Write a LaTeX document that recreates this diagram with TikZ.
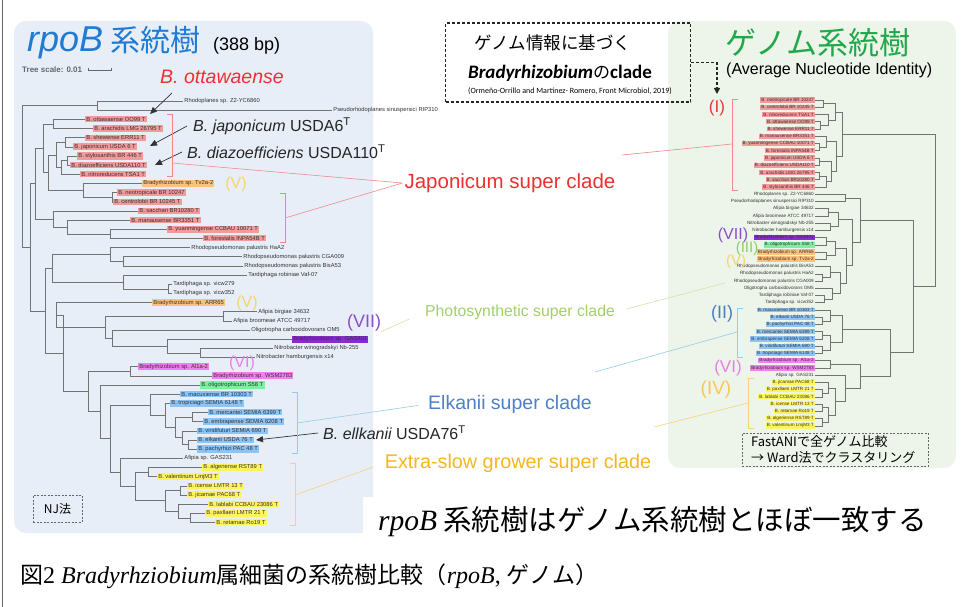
\documentclass[tikz,border=0pt]{standalone}
\usepackage{fontspec}
\setmainfont{Liberation Sans}
\newfontfamily\jp{Noto Sans CJK JP}
\newfontfamily\serifL{Liberation Serif}
\newfontfamily\carl{Carlito}
\usetikzlibrary{arrows.meta}
\newcommand\ly[1]{101+9.16*#1}
\newcommand\ry[1]{100+7.24*#1}
\newcommand\fsz[1]{\fontsize{#1}{#1}\selectfont}
\definecolor{lpanel}{HTML}{E8EEF8}
\definecolor{rpanel}{HTML}{EDF4E9}
\definecolor{hred}{HTML}{F39A9A}
\definecolor{hora}{HTML}{F9C27E}
\definecolor{hpur}{HTML}{8A2BD0}
\definecolor{hmag}{HTML}{F27EF0}
\definecolor{hgrn}{HTML}{7DEFA0}
\definecolor{hblu}{HTML}{8CC4F6}
\definecolor{hyel}{HTML}{FFF45C}
\definecolor{ttlblue}{HTML}{1F7BD4}
\definecolor{ttlgreen}{HTML}{20A84A}
\definecolor{cred}{HTML}{EE3030}
\definecolor{cgreen}{HTML}{A2D06A}
\definecolor{cblue}{HTML}{4F7FCB}
\definecolor{cyel}{HTML}{F4B81C}
\definecolor{lred}{HTML}{F08A8A}
\definecolor{lgrn}{HTML}{CFE4A8}
\definecolor{lblu}{HTML}{90CDEB}
\definecolor{lyel}{HTML}{F6D27A}
\definecolor{nVII}{HTML}{8A4FC6}
\definecolor{nVI}{HTML}{E77FE8}
\definecolor{nV}{HTML}{F7D46A}
\definecolor{nIII}{HTML}{8ED060}
\definecolor{nII}{HTML}{4A7CC8}
\definecolor{nIV}{HTML}{F5C85A}
\definecolor{nI}{HTML}{E8393A}
\newcommand\LE[2]{\foreach \c in {#2}{\draw[br] (#1) |- (\c);}}
\newcommand\RE[2]{\foreach \c in {#2}{\draw[br] (\c) -| (#1);}}
\tikzset{
  br/.style={draw=black!55, line width=0.45pt},
  lfl/.style={anchor=west, font=\fsz{5.8}, inner xsep=1.2pt, inner ysep=0.9pt, text=black!80},
  lfr/.style={anchor=east, font=\fsz{4.6}, inner xsep=1pt, inner ysep=0.7pt, text=black!80},
  arr/.style={draw=black!80, line width=0.7pt, -{Triangle[length=7pt,width=6pt]}},
  callout/.style={font=\fsz{16}, text=black!85, inner sep=0pt, anchor=west},
  brk/.style={line width=0.6pt},
  conn/.style={line width=0.6pt},
  rn/.style={inner sep=0pt},
  dbox/.style={draw=black!60, dash pattern=on 2pt off 1.5pt, line width=0.8pt, inner sep=0pt}
}
\begin{document}
\begin{tikzpicture}[x=1pt,y=-1pt]
\path[use as bounding box, fill=white] (0,0) rectangle (963,607);
\draw[black!60, line width=0.8pt] (2,0) -- (2,607);
% panels
\fill[lpanel, rounded corners=12pt] (14,21) rectangle (373,533);
\fill[rpanel, rounded corners=12pt] (668,21) rectangle (956,468);

% ---------- titles ----------
\node[anchor=west, inner sep=0pt, text=ttlblue] (ttl) at (27,43) {{\fsz{36}\itshape rpoB}\hspace{7pt}{\jp\fsz{30}系統樹}};
\node[anchor=west, inner sep=0pt, font=\fsz{18}] (bp) at (213,46) {(388 bp)};
\node[anchor=west, inner sep=0pt, font=\fsz{8}\bfseries, text=black!60] (tsc) at (22,70) {Tree scale: 0.01};
\draw[black!60, line width=0.5pt, {Bar[width=3pt]}-{Bar[width=3pt]}] ([xshift=6pt]tsc.east) -- ([xshift=29pt]tsc.east);

\node[anchor=west, inner sep=0pt, text=ttlgreen, font=\jp\fsz{31}] (gttl) at (725,43) {ゲノム系統樹};
\node[anchor=west, inner sep=0pt, font=\fsz{16}] (ani) at (726,70) {(Average Nucleotide Identity)};

% ---------- left tree leaves ----------
\foreach \i/\x/\h/\t in {
0/183/none/Rhodoplanes sp. Z2-YC6860,
1/332/none/Pseudorhodoplanes sinuspersici RIP310,
2/85/hred/B. ottawaense OO99 T,
3/93/hred/B. arachidis LMG 26795 T,
4/85/hred/B. shewense ERR11 T,
5/73/hred/B. japonicum USDA 6 T,
6/77/hred/B. stylosanthis BR 446 T,
7/70/hred/B. diazoefficiens USDA110 T,
8/80/hred/B. nitroreducens TSA1 T,
9/142/hora/Bradyrhizobium sp. Tv2a-2,
10/117/hred/B. neotropicale BR 10247,
11/113/hred/B. centrolobii BR 10245 T,
12/138/hred/B. sacchari BR10280 T,
13/130/hred/B. manausense BR3351 T,
14/167/hred/B. yuanmingense CCBAU 10071 T,
15/203/hred/B. forestalis INPA54B T,
16/190/none/Rhodopseudomonas palustris HaA2,
17/242/none/Rhodopseudomonas palustris CGA009,
18/243/none/Rhodopseudomonas palustris BisA53,
19/247/none/Tardiphaga robiniae Vaf-07,
20/172/none/Tardiphaga sp. vicw279,
21/172/none/Tardiphaga sp. vicw352,
22/152/hora/Bradyrhizobium sp. ARR65,
23/257/none/Afipia birgiae 34632,
24/232/none/Afipia broomeae ATCC 49717,
25/250/none/Oligotropha carboxidovorans OM5,
26/292/hpur/Bradyrhizobium sp. GAS401,
27/273/none/Nitrobacter winogradskyi Nb-255,
28/255/none/Nitrobacter hamburgensis x14,
29/138/hmag/Bradyrhizobium sp. Al1a-2,
30/212/hmag/Bradyrhizobium sp. WSM2783,
31/200/hgrn/B. oligotrophicum S58 T,
32/180/hblu/B. macuxiense BR 10303 T,
33/170/hblu/B. tropiciagri SEMIA 6148 T,
34/208/hblu/B. mercantei SEMIA 6399 T,
35/203/hblu/B. embrapense SEMIA 6208 T,
36/197/hblu/B. viridifuturi SEMIA 690 T,
37/197/hblu/B. elkanii USDA 76 T,
38/197/hblu/B. pachyrhizi PAC 48 T,
39/183/none/Afipia sp. GAS231,
40/202/hyel/B. algeriense RST89 T,
41/157/hyel/B. valentinum LmjM3 T,
42/187/hyel/B. icense LMTR 13 T,
43/187/hyel/B. jicamae PAC68 T,
44/208/hyel/B. lablabi CCBAU 23086 T,
45/205/hyel/B. paxllaeri LMTR 21 T,
46/215/hyel/B. retamae Ro19 T}
{\node[lfl, fill=\h] (L\i) at (\x,{\ly{\i}}) {\t};}

% left internal nodes
\coordinate (a1) at (97,{\ly{0.5}});
\coordinate (j1) at (53,{\ly{2.5}});
\coordinate (j3) at (65,{\ly{4.5}});
\coordinate (j5) at (67,{\ly{6.5}});
\coordinate (j4) at (61,{\ly{7.25}});
\coordinate (j2) at (56,{\ly{5.875}});
\coordinate (j7) at (112,{\ly{10.5}});
\coordinate (j6) at (83,{\ly{9.75}});
\coordinate (j8) at (48,{\ly{7.81}});
\coordinate (j0) at (43,{\ly{5.16}});
\coordinate (k2) at (110,{\ly{14.5}});
\coordinate (k1) at (67,{\ly{13.75}});
\coordinate (k0) at (53,{\ly{12.875}});
\coordinate (jj) at (35,{\ly{9.02}});
\coordinate (p2) at (123,{\ly{17.5}});
\coordinate (p1) at (110,{\ly{16.75}});
\coordinate (t2) at (168,{\ly{20.5}});
\coordinate (t1) at (123,{\ly{19.75}});
\coordinate (p0) at (52,{\ly{18.25}});
\coordinate (f1) at (223,{\ly{23.5}});
\coordinate (n2) at (200,{\ly{27.5}});
\coordinate (n1) at (167,{\ly{26.75}});
\coordinate (o1) at (112,{\ly{25.875}});
\coordinate (f0) at (105,{\ly{24.69}});
\coordinate (g0) at (56,{\ly{23.34}});
\coordinate (m1) at (130,{\ly{29.5}});
\coordinate (e3) at (188,{\ly{37.5}});
\coordinate (e2) at (182,{\ly{36.75}});
\coordinate (e4) at (192,{\ly{34.5}});
\coordinate (e5) at (175,{\ly{35.625}});
\coordinate (e6) at (165,{\ly{34.31}});
\coordinate (e0) at (150,{\ly{33.16}});
\coordinate (s4) at (190,{\ly{45.5}});
\coordinate (s3) at (178,{\ly{44.75}});
\coordinate (s5) at (180,{\ly{42.5}});
\coordinate (s6) at (165,{\ly{43.625}});
\coordinate (s1) at (148,{\ly{40.5}});
\coordinate (s7) at (135,{\ly{42.06}});
\coordinate (s0) at (120,{\ly{40.53}});
\coordinate (es) at (110,{\ly{36.85}});
\coordinate (ol) at (100,{\ly{33.92}});
\coordinate (lw) at (88,{\ly{31.71}});
\coordinate (g1) at (63,{\ly{27.5}});
\coordinate (h0) at (45,{\ly{22.9}});
\coordinate (r1) at (30,{\ly{15.96}});
\coordinate (r0) at (22,{\ly{8.23}});

\LE{r0}{a1,r1}
\LE{a1}{L0,L1}
\LE{r1}{jj,h0}
\LE{jj}{j0,k0}
\LE{j0}{j1,j8}
\LE{j1}{L2,L3}
\LE{j8}{j2,j6}
\LE{j2}{j3,j4}
\LE{j3}{L4,L5}
\LE{j4}{j5,L8}
\LE{j5}{L6,L7}
\LE{j6}{L9,j7}
\LE{j7}{L10,L11}
\LE{k0}{L12,k1}
\LE{k1}{L13,k2}
\LE{k2}{L14,L15}
\LE{h0}{p0,g1}
\LE{p0}{p1,t1}
\LE{p1}{L16,p2}
\LE{p2}{L17,L18}
\LE{t1}{L19,t2}
\LE{t2}{L20,L21}
\LE{g1}{g0,lw}
\LE{g0}{L22,f0}
\LE{f0}{f1,o1}
\LE{f1}{L23,L24}
\LE{o1}{L25,n1}
\LE{n1}{L26,n2}
\LE{n2}{L27,L28}
\LE{lw}{m1,ol}
\LE{m1}{L29,L30}
\LE{ol}{L31,es}
\LE{es}{e0,s0}
\LE{e0}{L32,e6}
\LE{e6}{L33,e5}
\LE{e5}{e4,e2}
\LE{e4}{L34,L35}
\LE{e2}{L36,e3}
\LE{e3}{L37,L38}
\LE{s0}{L39,s7}
\LE{s7}{s1,s6}
\LE{s1}{L40,L41}
\LE{s6}{s5,s3}
\LE{s5}{L42,L43}
\LE{s3}{L44,s4}
\LE{s4}{L45,L46}

% ---------- right tree leaves ----------
\foreach \i/\h/\t in {
0/hred/B. neotropicale BR 10247,
1/hred/B. centrolobii BR 10245 T,
2/hred/B. nitroreducens TSA1 T,
3/hred/B. ottawaense OO99 T,
4/hred/B. shewense ERR11 T,
5/hred/B. manausense BR3351 T,
6/hred/B. yuanmingense CCBAU 10071 T,
7/hred/B. forestalis INPA54B T,
8/hred/B. japonicum USDA 6 T,
9/hred/B. diazoefficiens USDA110 T,
10/hred/B. arachidis LMG 26795 T,
11/hred/B. sacchari BR10280 T,
12/hred/B. stylosanthis BR 446 T,
13/none/Rhodoplanes sp. Z2-YC6860,
14/none/Pseudorhodoplanes sinuspersici RIP310,
15/none/Afipia birgiae 34632,
16/none/Afipia broomeae ATCC 49717,
17/none/Nitrobacter winogradskyi Nb-255,
18/none/Nitrobacter hamburgensis x14,
19/hpur/Bradyrhizobium sp. GAS401,
20/hgrn/B. oligotrophicum S58 T,
21/hora/Bradyrhizobium sp. ARR65,
22/hora/Bradyrhizobium sp. Tv2a-2,
23/none/Rhodopseudomonas palustris BisA53,
24/none/Rhodopseudomonas palustris HaA2,
25/none/Rhodopseudomonas palustris CGA009,
26/none/Oligotropha carboxidovorans OM5,
27/none/Tardiphaga robiniae Vaf-07,
28/none/Tardiphaga sp. vicw352,
29/hblu/B. macuxiense BR 10303 T,
30/hblu/B. elkanii USDA 76 T,
31/hblu/B. pachyrhizi PAC 48 T,
32/hblu/B. mercantei SEMIA 6399 T,
33/hblu/B. embrapense SEMIA 6208 T,
34/hblu/B. viridifuturi SEMIA 690 T,
35/hblu/B. tropiciagri SEMIA 6148 T,
36/hmag/Bradyrhizobium sp. Al1a-2,
37/hmag/Bradyrhizobium sp. WSM2783,
38/none/Afipia sp. GAS231,
39/hyel/B. jicamae PAC68 T,
40/hyel/B. paxllaeri LMTR 21 T,
41/hyel/B. lablabi CCBAU 23086 T,
42/hyel/B. icense LMTR 13 T,
43/hyel/B. retamae Ro19 T,
44/hyel/B. algeriense RST89 T,
45/hyel/B. valentinum LmjM3 T}
{\node[lfr, fill=\h] (R\i) at (815,{\ry{\i}}) {\t};}

% right internal nodes
\coordinate (qa) at (823,{\ry{0.5}});
\coordinate (qb) at (820,{\ry{3.5}});
\coordinate (qc) at (828,{\ry{2.75}});
\coordinate (qd) at (835,{\ry{1.625}});
\coordinate (qe) at (819,{\ry{6.5}});
\coordinate (qf) at (826,{\ry{5.75}});
\coordinate (qg) at (819,{\ry{8.5}});
\coordinate (qh) at (819,{\ry{10.5}});
\coordinate (qi) at (826,{\ry{11.25}});
\coordinate (qj) at (831,{\ry{9.875}});
\coordinate (qk) at (836,{\ry{7.81}});
\coordinate (QJ) at (842,{\ry{4.72}});
\coordinate (Q0) at (935,{\ry{15.2}});
\coordinate (Q1) at (913,{\ry{25.75}});
\coordinate (Q2) at (860,{\ry{16.6}});
\coordinate (P1) at (845,{\ry{13.5}});
\coordinate (P2) at (852,{\ry{19.69}});
\coordinate (P3) at (838,{\ry{16.5}});
\coordinate (P3a) at (828,{\ry{15.5}});
\coordinate (P3b) at (830,{\ry{17.5}});
\coordinate (P4) at (846,{\ry{22.875}});
\coordinate (P5) at (835,{\ry{20.5}});
\coordinate (P5a) at (826,{\ry{19.5}});
\coordinate (P5b) at (826,{\ry{21.5}});
\coordinate (P6) at (840,{\ry{25.25}});
\coordinate (P6a) at (830,{\ry{23.75}});
\coordinate (P6c) at (822,{\ry{24.5}});
\coordinate (P6b) at (832,{\ry{26.75}});
\coordinate (P6d) at (824,{\ry{27.5}});
\coordinate (Q3) at (890,{\ry{34.9}});
\coordinate (E) at (842,{\ry{31.625}});
\coordinate (Ea) at (830,{\ry{29.75}});
\coordinate (Ea2) at (822,{\ry{30.5}});
\coordinate (Eb) at (830,{\ry{33.5}});
\coordinate (Eb1) at (822,{\ry{32.5}});
\coordinate (Eb2) at (822,{\ry{34.5}});
\coordinate (S) at (860,{\ry{38.15}});
\coordinate (M) at (830,{\ry{36.5}});
\coordinate (S2) at (845,{\ry{39.8}});
\coordinate (X) at (835,{\ry{41.625}});
\coordinate (X1) at (828,{\ry{39.75}});
\coordinate (X1a) at (822,{\ry{40.5}});
\coordinate (X2) at (828,{\ry{43.5}});
\coordinate (X2a) at (822,{\ry{42.5}});
\coordinate (X2b) at (822,{\ry{44.5}});

\RE{Q0}{QJ,Q1}
\RE{QJ}{qd,qk}
\RE{qd}{qa,qc}
\RE{qa}{R0,R1}
\RE{qc}{R2,qb}
\RE{qb}{R3,R4}
\RE{qk}{qf,qj}
\RE{qf}{R5,qe}
\RE{qe}{R6,R7}
\RE{qj}{qg,qi}
\RE{qg}{R8,R9}
\RE{qi}{qh,R12}
\RE{qh}{R10,R11}
\RE{Q1}{Q2,Q3}
\RE{Q2}{P1,P2}
\RE{P1}{R13,R14}
\RE{P2}{P3,P4}
\RE{P3}{P3a,P3b}
\RE{P3a}{R15,R16}
\RE{P3b}{R17,R18}
\RE{P4}{P5,P6}
\RE{P5}{P5a,P5b}
\RE{P5a}{R19,R20}
\RE{P5b}{R21,R22}
\RE{P6}{P6a,P6b}
\RE{P6a}{R23,P6c}
\RE{P6c}{R24,R25}
\RE{P6b}{R26,P6d}
\RE{P6d}{R27,R28}
\RE{Q3}{E,S}
\RE{E}{Ea,Eb}
\RE{Ea}{R29,Ea2}
\RE{Ea2}{R30,R31}
\RE{Eb}{Eb1,Eb2}
\RE{Eb1}{R32,R33}
\RE{Eb2}{R34,R35}
\RE{S}{M,S2}
\RE{M}{R36,R37}
\RE{S2}{R38,X}
\RE{X}{X1,X2}
\RE{X1}{R39,X1a}
\RE{X1a}{R40,R41}
\RE{X2}{X2a,X2b}
\RE{X2a}{R42,R43}
\RE{X2b}{R44,R45}

% ---------- callouts with arrows ----------
\node[anchor=west, inner sep=0pt, font=\fsz{19.5}\itshape, text=cred] (ott) at (160,77) {B. ottawaense};
\node[callout] (jap) at (193,126) {{\itshape B. japonicum} USDA6\textsuperscript{T}};
\node[callout] (dia) at (187,152) {{\itshape B. diazoefficiens} USDA110\textsuperscript{T}};
\node[callout] (elk) at (323,433) {{\itshape B. ellkanii} USDA76\textsuperscript{T}};
\coordinate (ottS) at (172,93);
\coordinate (ottT) at (150,114);
\coordinate (japT) at (150,146);
\coordinate (diaT) at (155,165);
\coordinate (elkT) at (256,440);
\draw[arr] (ottS) -- (ottT);
\draw[arr] ([xshift=-6pt]jap.west) -- (japT);
\draw[arr] ([xshift=-5pt]dia.west) -- (diaT);
\draw[arr] ([xshift=-5pt]elk.west) -- (elkT);

% ---------- roman numerals ----------
\node[rn, font=\fsz{16}, text=nV] (lV1) at (236,184) {(V)};
\node[rn, font=\fsz{16}, text=nV] (lV2) at (247,303) {(V)};
\node[rn, font=\fsz{18}, text=nVII] (lVII) at (364,323) {(VII)};
\node[rn, font=\fsz{16}, text=nVI] (lVI) at (242,363) {(VI)};
\node[rn, font=\fsz{17}, text=nI] (rI) at (717,108) {(I)};
\node[rn, font=\fsz{16}, text=nVII] (rVII) at (733,235) {(VII)};
\node[rn, font=\fsz{15}, text=nIII] (rIII) at (747,249) {(III)};
\node[rn, font=\fsz{15}, text=nV] (rV) at (736,262) {(V)};
\node[rn, font=\fsz{18}, text=nII] (rII) at (722,314) {(II)};
\node[rn, font=\fsz{17}, text=nVI] (rVI) at (728,368) {(VI)};
\node[rn, font=\fsz{19}, text=nIV] (rIV) at (716,390) {(IV)};

% ---------- brackets ----------
\draw[lred, brk] (167,114) -- (172,114) -- (172,176) -- (167,176);
\draw[lred, brk] (280,193) -- (285,193) -- (285,242) -- (280,242);
\draw[lblu, brk] (292,392) -- (297,392) -- (297,453) -- (292,453);
\draw[lyel, brk] (290,463) -- (295,463) -- (295,525) -- (290,525);
\draw[lred, brk] (738,99) -- (732,99) -- (732,190) -- (738,190);
\draw[lblu, brk] (743,308) -- (737,308) -- (737,357) -- (743,357);
\draw[lyel, brk] (754,378) -- (748,378) -- (748,428) -- (754,428);
\coordinate (bJ1) at (172,163);
\coordinate (bJ2) at (285,218);
\coordinate (bE) at (297,423);
\coordinate (bX) at (295,495);
\coordinate (bI) at (732,144);
\coordinate (bII) at (737,332);
\coordinate (bIV) at (748,403);

% ---------- super clade labels ----------
\node[font=\fsz{20.5}, text=cred, inner sep=0pt] (jsc) at (510,183) {Japonicum super clade};
\node[font=\fsz{15.8}, text=cgreen, inner sep=0pt] (psc) at (520,312) {Photosynthetic super clade};
\node[font=\fsz{19.5}, text=cblue, inner sep=0pt] (esc) at (510,404) {Elkanii super clade};
\node[font=\fsz{19.8}, text=cyel, inner sep=0pt] (xsc) at (518,463) {Extra-slow grower super clade};
\coordinate (jR) at (622,155);
\coordinate (pR) at (725,283);
\coordinate (eR) at (595,372);
\coordinate (xR) at (654,427);
\draw[lred, conn] (bJ1) -- ([xshift=-2pt]jsc.west);
\draw[lred, conn] (bJ2) -- ([xshift=-2pt]jsc.west);
\draw[lred, conn] (bI) -- (jR);
\draw[lgrn, conn, shorten >=17pt] (lVII.south east) -- (psc.west);
\draw[lgrn, conn, shorten <=12pt] (psc.east) -- (pR);
\draw[lblu, conn, shorten >=10pt] (bE) -- (esc.west);
\draw[lblu, conn] (eR) -- (bII);
\draw[lyel, conn, shorten >=12pt] (bX) -- (xsc.west);
\draw[lyel, conn] (xR) -- (bIV);

% ---------- top dashed box ----------
\node[draw=black!85, dash pattern=on 3pt off 2pt, line width=1.4pt, minimum width=245pt, minimum height=79pt, inner sep=0pt] (tbox) at (568,62.5) {};
\node[font=\jp\fsz{17.5}, inner sep=0pt] (tb1) at (553,43) {ゲノム情報に基づく};
\node[inner sep=0pt] (tb2) at (560,73) {{\carl\bfseries\itshape\fsz{19}Bradyrhizobium}{\jp\fsz{17}の}{\carl\bfseries\fsz{19}clade}};
\node[font=\carl\fsz{8}, inner sep=0pt] (tb3) at (570,91) {(Ormeño-Orrillo and Martínez- Romero, Front Microbiol, 2019)};
\coordinate (dtip) at (717,94);
\draw[black!85, dash pattern=on 3pt off 2pt, line width=1.4pt, -{Triangle[length=6pt,width=6pt]}] (tbox.east) -| (dtip);

% ---------- method boxes ----------
\node[dbox, minimum width=186pt, minimum height=33pt] (fbox) at (835,449.5) {};
\node[anchor=west, inner sep=0pt, align=left, font=\jp\fontsize{13}{16}\selectfont] (ftxt) at (751,450) {FastANIで全ゲノム比較\\→ Ward法でクラスタリング};
\node[dbox, minimum width=49pt, minimum height=27pt, font=\jp\fsz{12}] (nj) at (57.5,508.5) {NJ法};

% ---------- conclusion and caption ----------
\fill[white] (363,497) rectangle (374,534);
\node[anchor=west, inner sep=0pt] (concl) at (378,522) {{\serifL\itshape\fsz{29.5}rpoB}\hspace{6pt}{\jp\fsz{28.5}系統樹はゲノム系統樹とほぼ一致する}};
\node[anchor=west, inner sep=0pt] (cap) at (20,576) {{\jp\fsz{23}図}{\serifL\fsz{24}2 \itshape Bradyrhziobium}{\jp\fsz{23}属細菌の系統樹比較（}{\serifL\fsz{24}\itshape rpoB}{\serifL\fsz{24}, }{\jp\fsz{23}ゲノム）}};
\end{tikzpicture}
\end{document}
